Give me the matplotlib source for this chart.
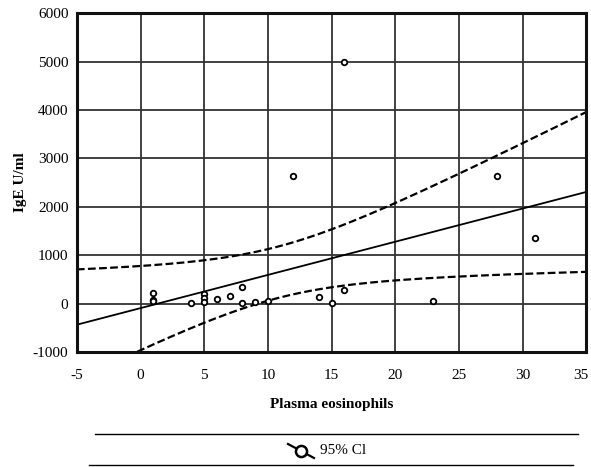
import numpy as np
import matplotlib
matplotlib.use('Agg')
import matplotlib.pyplot as plt
from matplotlib.lines import Line2D
import matplotlib.transforms as mtrans

plt.rcParams['font.family'] = ['Liberation Serif', 'DejaVu Serif']
plt.rcParams['axes.unicode_minus'] = False

# plasma eosinophils vs IgE (U/ml)
eos = [1, 1, 1, 4, 5, 5, 5, 6, 7, 8, 8, 9, 10, 12, 14, 15, 16, 16, 23, 28, 31]
ige = [223, 74, 50, 18, 190, 108, 38, 95, 163, 342, 6, 38, 53, 2630, 130, 20, 280, 5000, 60, 2630, 1350]

xticks = [-5, 0, 5, 10, 15, 20, 25, 30, 35]
yticks = [-1000, 0, 1000, 2000, 3000, 4000, 5000, 6000]
t_crit = 2.093  # t(0.975, df=19)

x = np.array(eos, dtype=float)
y = np.array(ige, dtype=float)
n = len(x)
xm = x.mean()
sxx = ((x - xm) ** 2).sum()
slope = ((x - xm) * (y - y.mean())).sum() / sxx
icpt = y.mean() - slope * xm
resid = y - (icpt + slope * x)
s = np.sqrt((resid ** 2).sum() / (n - 2))

xx = np.linspace(-5, 35, 200)
yy = icpt + slope * xx
half = t_crit * s * np.sqrt(1.0 / n + (xx - xm) ** 2 / sxx)

fig = plt.figure(figsize=(5.91, 4.67), dpi=100)
ax = fig.add_axes([0.130, 0.246, 0.862, 0.726])

ax.grid(True, color='#333333', lw=1.3)
ax.set_axisbelow(True)
ax.plot(xx, yy, color='black', lw=1.3)
ax.plot(xx, yy + half, color='black', lw=1.6, dashes=(3.5, 1.5))
ax.plot(xx, yy - half, color='black', lw=1.6, dashes=(3.5, 1.5))
ax.plot(x, y, 'o', ms=4, mfc='white', mec='black', mew=1.3, zorder=5)

ax.set_xlim(-5, 35)
ax.set_ylim(-1000, 6000)
ax.set_xticks(xticks)
ax.set_yticks(yticks)
ax.tick_params(length=0, labelsize=11, pad=12)
ax.tick_params(axis='y', pad=6)
for sp in ax.spines.values():
    sp.set_linewidth(2.2)
    sp.set_color('#111111')

# keep the last x label inside the figure
last = ax.get_xticklabels()[-1]
last.set_transform(last.get_transform() + mtrans.ScaledTranslation(-5 / 100, 0, fig.dpi_scale_trans))

ax.set_xlabel('Plasma eosinophils', fontsize=11, fontweight='bold', labelpad=12)
ax.set_ylabel('IgE U/ml', fontsize=11, fontweight='bold', labelpad=4)

# legend box below the plot
W, H = 591.0, 467.0
fig.add_artist(Line2D([95 / W, 578 / W], [1 - 434 / H, 1 - 434 / H], color='black', lw=1.0))
fig.add_artist(Line2D([89 / W, 573 / W], [1 - 465 / H, 1 - 465 / H], color='black', lw=1.0))
fig.add_artist(Line2D([288 / W, 314 / W], [1 - 444 / H, 1 - 458 / H], color='black', lw=1.6))
fig.add_artist(Line2D([301 / W], [1 - 451 / H], marker='o', ms=8, mfc='white',
                      mec='black', mew=1.8, ls='none'))
fig.text(320 / W, 1 - 451 / H, '95% Cl', fontsize=11, va='center', ha='left')

fig.savefig('out.png', dpi=100)
